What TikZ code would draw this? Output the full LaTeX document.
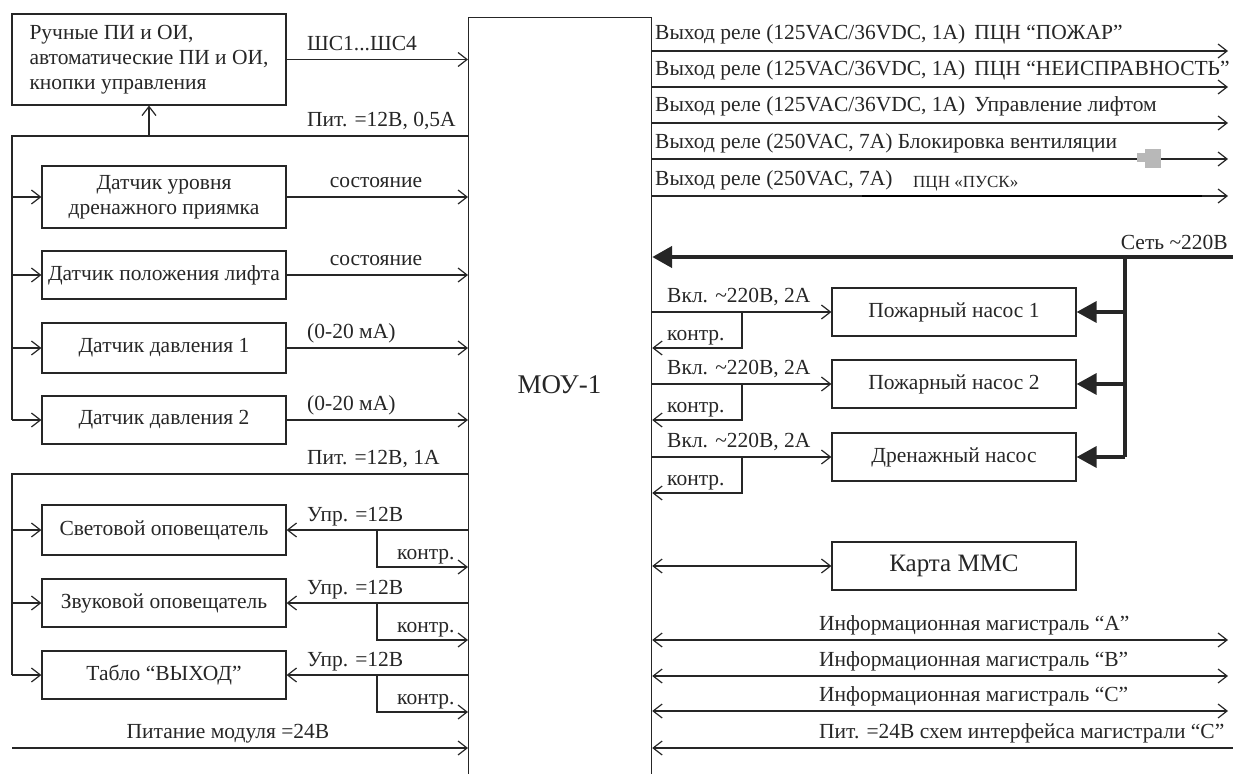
\documentclass[tikz,border=0pt]{standalone}
\usepackage{fontspec}
\setmainfont{Liberation Serif}
\usetikzlibrary{arrows.meta,positioning}

\tikzset{
  blk/.style={draw=black!85, line width=1.2pt, minimum width=244pt, minimum height=48pt, inner sep=0pt, align=center},
  ln/.style={draw=black!85, line width=1.2pt},
  sig/.style={ln, -{Straight Barb[length=9pt,width=14pt]}},
  rsig/.style={ln, {Straight Barb[length=9pt,width=14pt]}-},
  bsig/.style={ln, {Straight Barb[length=9pt,width=14pt]}-{Straight Barb[length=9pt,width=14pt]}},
  pwr/.style={draw=black!85, line width=3.5pt, -{Triangle[length=20pt,width=21pt]}},
  lbl/.style={inner sep=0pt, anchor=base west},
  clbl/.style={inner sep=0pt, anchor=base}
}

\begin{document}
\begin{tikzpicture}[x=1pt, y=-1pt, font=\fontsize{21.5}{25}\selectfont, text=black!85]
    \useasboundingbox (0,0) rectangle (1233,773);

    % MOU-1
    \node[draw=black!85, line width=1.2pt, minimum width=183pt, minimum height=790pt, inner sep=0pt, anchor=north west] (mou) at (468,17) {};
    \node[font=\fontsize{27}{30}\selectfont] (moutxt) at (559.5,385) {МОУ-1};

    % Loops and sensors
    \node[blk, minimum width=274pt, minimum height=91pt, align=left, font=\fontsize{21.5}{25}\selectfont] (ruch) at (149,59.5) {Ручные ПИ и ОИ,\\автоматические ПИ и ОИ,\\кнопки управления};
    \node[blk, minimum height=62pt] (urov) at (164,197) {Датчик уровня\\дренажного приямка};
    \node[blk] (lift) at (164,275) {Датчик положения лифта};
    \node[blk, minimum height=50pt] (dav1) at (164,348) {Датчик давления 1};
    \node[blk] (dav2) at (164,420) {Датчик давления 2};

    \coordinate (p1) at (12,136);
    \draw[ln] (mou.west |- p1) -- (p1) -- (p1 |- dav2.west);
    \draw[sig] (ruch.south |- p1) -- (ruch.south);
    \foreach \n in {urov,lift,dav1,dav2}
        \draw[sig] (p1 |- \n.west) -- (\n.west);
    \foreach \n in {ruch,urov,lift,dav1,dav2}
        \draw[sig] (\n.east) -- (\n.east -| mou.west);

    \node[lbl] (lshs) at (307,51) {ШС1...ШС4};
    \node[lbl] (lp1) at (307,127) {Пит. =12В, 0,5А};
    \node[clbl] (lurov) at (376,187) {состояние};
    \node[clbl] (llift) at (376,265) {состояние};
    \node[lbl] (ldav1) at (307,338) {(0-20 мА)};
    \node[lbl] (ldav2) at (307,410) {(0-20 мА)};

    % Annunciators
    \node[blk, minimum height=50pt] (svet) at (164,530) {Световой оповещатель};
    \node[blk] (zvuk) at (164,603) {Звуковой оповещатель};
    \node[blk] (tablo) at (164,675) {Табло “ВЫХОД”};

    \coordinate (p2) at (12,474);
    \coordinate (kl) at (377,0);
    \draw[ln] (mou.west |- p2) -- (p2) -- (p2 |- tablo.west);
    \node[lbl] (lp2) at (307,464) {Пит. =12В, 1А};
    \foreach \n in {svet,zvuk,tablo} {
        \draw[sig] (p2 |- \n.west) -- (\n.west);
        \draw[sig] (\n.east -| mou.west) -- (\n.east);
        \path (kl |- \n.east) ++(0,37) coordinate (k\n);
        \draw[sig] (kl |- \n.east) -- (k\n) -- (k\n -| mou.west);
        \node[lbl] at ([yshift=9pt]\n.east -| 307,0) {Упр. =12В};
        \node[lbl] at ([yshift=8pt]k\n -| 397,0) {контр.};
    }

    \coordinate (pm) at (12,748);
    \draw[sig] (pm) -- (pm -| mou.west);
    \node[clbl] (lpm) at (228,738) {Питание модуля =24В};

    % Relay outputs
    \foreach \i/\y in {1/51,2/87,3/123,4/159,5/196} {
        \coordinate (out\i) at (1228,\y);
        \draw[sig] (mou.east |- out\i) -- (out\i);
    }
    \node[lbl] (lout1) at (655,40) {Выход реле (125VAC/36VDC, 1A)\, ПЦН “ПОЖАР”};
    \node[lbl] (lout2) at (655,76) {Выход реле (125VAC/36VDC, 1A)\, ПЦН “НЕИСПРАВНОСТЬ”};
    \node[lbl] (lout3) at (655,112) {Выход реле (125VAC/36VDC, 1A)\, Управление лифтом};
    \node[lbl] (lout4) at (655,148) {Выход реле (250VAC, 7А) Блокировка вентиляции};
    \node[lbl] (lout5) at (655,185) {Выход реле (250VAC, 7А)};
    \node[lbl, font=\fontsize{17}{20}\selectfont] (lpusk) at (913,187) {ПЦН «ПУСК»};
    \draw[line width=1.8pt, black] (862,196) -- (1202,196);
    \fill[black!28] (1145,149) rectangle (1161,168);
    \fill[black!28] (1137,153) rectangle (1145,162);

    % Mains and pumps
    \coordinate (set) at (1233,257);
    \draw[pwr, line width=4.5pt] (set) -- (set -| mou.east);
    \node[inner sep=0pt, anchor=base east] (lset) at (1228,249) {Сеть \textasciitilde220В};

    \node[blk] (nas1) at (954,312) {Пожарный насос 1};
    \node[blk] (nas2) at (954,384) {Пожарный насос 2};
    \node[blk] (dren) at (954,457) {Дренажный насос};

    \coordinate (bus) at (1125,257);
    \coordinate (kr) at (742,0);
    \draw[draw=black!85, line width=3.5pt] (bus) -- (bus |- dren.east);
    \foreach \n in {nas1,nas2,dren} {
        \draw[pwr] (bus |- \n.east) -- (\n.east);
        \draw[sig] (mou.east |- \n.west) -- (\n.west);
        \path (kr |- \n.west) ++(0,36) coordinate (k\n);
        \draw[sig] (kr |- \n.west) -- (k\n) -- (k\n -| mou.east);
        \node[lbl] at ([yshift=10pt]\n.west -| 667,0) {Вкл. \textasciitilde220В, 2А};
        \node[lbl] at ([yshift=8pt]k\n -| 667,0) {контр.};
    }

    % MMC card
    \node[blk, font=\fontsize{25}{30}\selectfont] (mmc) at (954,566) {Карта ММС};
    \draw[bsig] (mou.east |- mmc.west) -- (mmc.west);

    % Buses
    \coordinate (ia) at (1228,640);
    \coordinate (ib) at (1228,676);
    \coordinate (ic) at (1228,711);
    \coordinate (ip) at (1233,748);
    \draw[bsig] (mou.east |- ia) -- (ia);
    \draw[bsig] (mou.east |- ib) -- (ib);
    \draw[bsig] (mou.east |- ic) -- (ic);
    \draw[rsig] (mou.east |- ip) -- (ip);
    \node[lbl] (lia) at (819,630) {Информационная магистраль “А”};
    \node[lbl] (lib) at (819,666) {Информационная магистраль “В”};
    \node[lbl] (lic) at (819,701) {Информационная магистраль “С”};
    \node[lbl] (lip) at (819,738) {Пит. =24В схем интерфейса магистрали “С”};
\end{tikzpicture}
\end{document}
